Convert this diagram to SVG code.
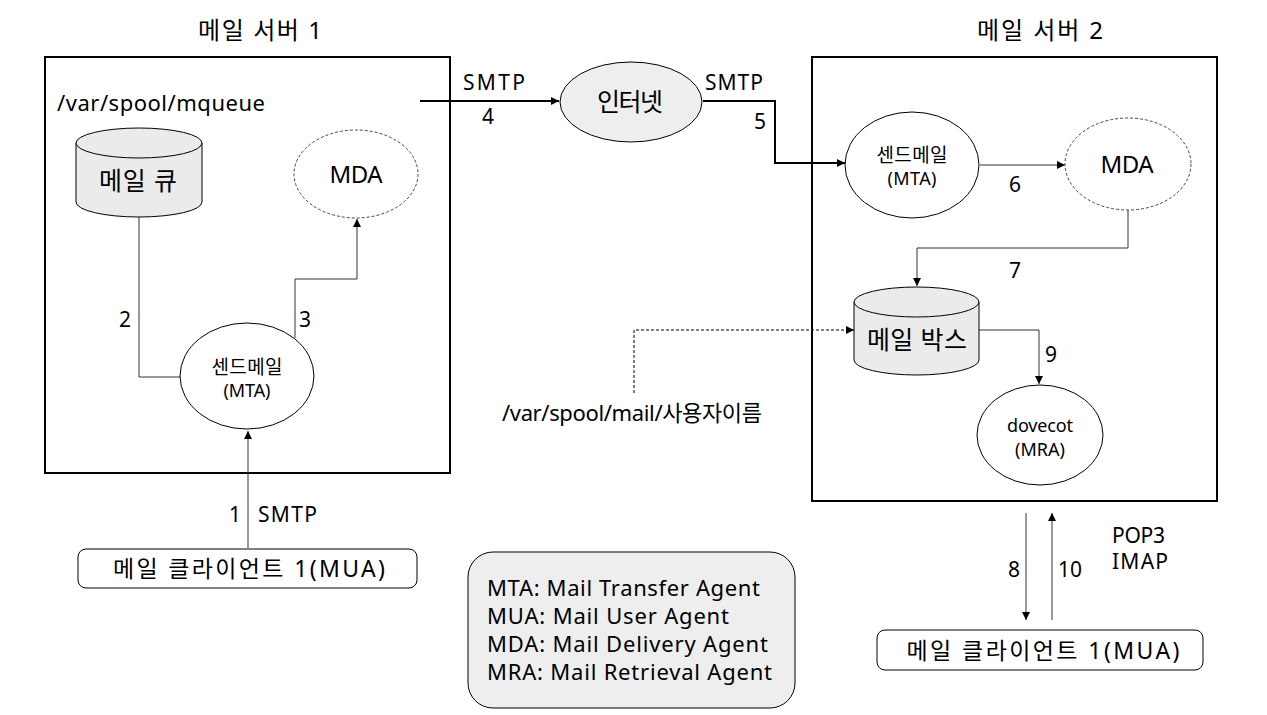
<svg xmlns="http://www.w3.org/2000/svg" width="1267" height="715" viewBox="0 0 1267 715">
<style>
text{font-family:"Noto Sans","Noto Sans CJK KR",sans-serif;fill:#000}
.t22{font-size:22px}
.t21{font-size:21px}
.t24{font-size:24px}
.t18{font-size:18px}
.k24{font-size:24px}
.k25{font-size:25px}
.k23{font-size:23px}
.k19{font-size:19px}
.lbl{font-size:21px}
.box{fill:#fff;stroke:#000;stroke-width:2}
.node{fill:#fff;stroke:#000;stroke-width:1}
.dash{fill:#fff;stroke:#444;stroke-width:1;stroke-dasharray:3,2}
.cyl{fill:#ebebeb;stroke:#000;stroke-width:1}
.gray{fill:#eeeeee;stroke:#000;stroke-width:1}
.ln{fill:none;stroke:#333;stroke-width:1}
.thick{fill:none;stroke:#000;stroke-width:2}
.dln{fill:none;stroke:#000;stroke-width:1;stroke-dasharray:3,2}
.c{text-anchor:middle}
</style>
<defs>
<marker id="ah" viewBox="0 0 10 10" refX="10" refY="5" markerWidth="8" markerHeight="8" markerUnits="userSpaceOnUse" orient="auto">
<path d="M0,0 L10,5 L0,10 z" fill="#000"/>
</marker>
</defs>
<rect width="1267" height="715" fill="#fff"/>

<g id="server1">
<rect class="box" x="45" y="57" width="405" height="416"/>
<text class="k24 c" x="260" y="39" textLength="124" lengthAdjust="spacing">메일 서버 1</text>
<text class="t22" x="57" y="111" textLength="208" lengthAdjust="spacing">/var/spool/mqueue</text>
</g>
<g id="server2">
<rect class="box" x="812" y="57" width="405" height="444"/>
<text class="k24 c" x="1040" y="39" textLength="126" lengthAdjust="spacing">메일 서버 2</text>
</g>

<g id="connectors">
<polyline class="ln" points="139,217 139,377 180,377"/>
<polyline class="ln" points="295,338 295,279 357,279 357,219" marker-end="url(#ah)"/>
<line class="ln" x1="248" y1="548" x2="248" y2="431" marker-end="url(#ah)"/>
<line class="thick" x1="420" y1="101" x2="559" y2="101" marker-end="url(#ah)"/>
<polyline class="thick" points="703,101 775,101 775,163 845,163" marker-end="url(#ah)"/>
<line class="ln" x1="980" y1="165" x2="1065" y2="165" marker-end="url(#ah)"/>
<polyline class="ln" points="1128,209 1128,248 917,248 917,286" marker-end="url(#ah)"/>
<polyline class="ln" points="979,330 1039,330 1039,384" marker-end="url(#ah)"/>
<polyline class="dln" points="634,393 634,330 854,330" marker-end="url(#ah)"/>
<line class="ln" x1="1026" y1="513" x2="1026" y2="620" marker-end="url(#ah)"/>
<line class="ln" x1="1052" y1="620" x2="1052" y2="513" marker-end="url(#ah)"/>
<text class="lbl" x="119" y="327">2</text>
<text class="lbl" x="299" y="327">3</text>
<text class="lbl" x="229" y="522">1</text>
<text class="lbl" x="258" y="522" textLength="59" lengthAdjust="spacing">SMTP</text>
<text class="lbl" x="463" y="90" textLength="62" lengthAdjust="spacing">SMTP</text>
<text class="lbl" x="482" y="124">4</text>
<text class="lbl" x="705" y="90" textLength="58" lengthAdjust="spacing">SMTP</text>
<text class="lbl" x="754" y="129">5</text>
<text class="lbl" x="1009" y="192">6</text>
<text class="lbl" x="1009" y="278">7</text>
<text class="lbl" x="1045" y="362">9</text>
<text class="lbl" x="1008" y="577">8</text>
<text class="lbl" x="1058" y="577" textLength="24" lengthAdjust="spacing">10</text>
<text class="lbl" x="1112" y="543" textLength="53" lengthAdjust="spacing">POP3</text>
<text class="lbl" x="1112" y="569" textLength="56" lengthAdjust="spacing">IMAP</text>
</g>

<g id="mailqueue">
<path class="cyl" d="M76,143 L76,202 A63,15 0 0 0 202,202 L202,143"/>
<ellipse class="cyl" cx="139" cy="143" rx="63" ry="15"/>
<text class="k25 c" x="138" y="190" textLength="78" lengthAdjust="spacing">메일 큐</text>
</g>

<g id="mda1">
<ellipse class="dash" cx="356" cy="174" rx="62" ry="44"/>
<text class="t24 c" x="356" y="183" textLength="53" lengthAdjust="spacing">MDA</text>
</g>

<g id="mta1">
<ellipse class="node" cx="247" cy="376" rx="67" ry="53"/>
<text class="k19 c" x="247" y="374" textLength="71" lengthAdjust="spacing">센드메일</text>
<text class="t18 c" x="247" y="397" textLength="47" lengthAdjust="spacing">(MTA)</text>
</g>

<g id="mua1">
<rect class="node" x="78" y="549" width="339" height="39" rx="8"/>
<text class="k23 c" x="249" y="577" textLength="272" lengthAdjust="spacing">메일 클라이언트 1(MUA)</text>
</g>

<g id="internet">
<ellipse class="gray" cx="631" cy="102" rx="71" ry="40"/>
<text class="k25 c" x="630" y="111" textLength="66" lengthAdjust="spacing">인터넷</text>
</g>

<g id="mta2">
<ellipse class="node" cx="912" cy="165" rx="67" ry="53"/>
<text class="k19 c" x="912" y="162" textLength="71" lengthAdjust="spacing">센드메일</text>
<text class="t18 c" x="912" y="185" textLength="49" lengthAdjust="spacing">(MTA)</text>
</g>

<g id="mda2">
<ellipse class="dash" cx="1128" cy="164" rx="63" ry="46"/>
<text class="t24 c" x="1127" y="173" textLength="53" lengthAdjust="spacing">MDA</text>
</g>

<g id="mailbox">
<path class="cyl" d="M854,302 L854,360 A62.5,15 0 0 0 979,360 L979,302"/>
<ellipse class="cyl" cx="916.5" cy="302" rx="62.5" ry="15"/>
<text class="k25 c" x="917" y="349" textLength="100" lengthAdjust="spacing">메일 박스</text>
</g>

<g id="dovecot">
<ellipse class="node" cx="1040" cy="435" rx="63" ry="50"/>
<text class="t18 c" x="1040" y="432" textLength="66" lengthAdjust="spacing">dovecot</text>
<text class="t18 c" x="1040" y="456" textLength="50" lengthAdjust="spacing">(MRA)</text>
</g>

<g id="spoolmail">
<text class="t22" x="502" y="421" textLength="260" lengthAdjust="spacing">/var/spool/mail/사용자이름</text>
</g>

<g id="mua2">
<rect class="node" x="877" y="630" width="326" height="40" rx="8"/>
<text class="k23 c" x="1043" y="659" textLength="273" lengthAdjust="spacing">메일 클라이언트 1(MUA)</text>
</g>

<g id="legend">
<rect class="gray" x="468" y="552" width="327" height="156" rx="25"/>
<text class="t22" x="487" y="596" textLength="273" lengthAdjust="spacing">MTA: Mail Transfer Agent</text>
<text class="t22" x="487" y="624" textLength="242" lengthAdjust="spacing">MUA: Mail User Agent</text>
<text class="t22" x="487" y="652" textLength="281" lengthAdjust="spacing">MDA: Mail Delivery Agent</text>
<text class="t22" x="487" y="680" textLength="285" lengthAdjust="spacing">MRA: Mail Retrieval Agent</text>
</g>
</svg>
